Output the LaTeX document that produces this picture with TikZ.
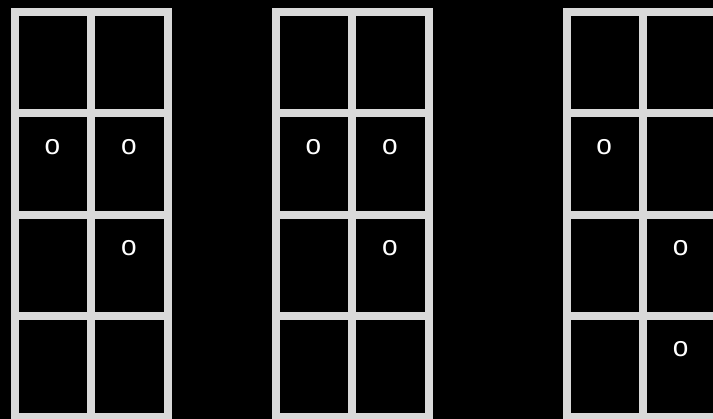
\documentclass[tikz,border=0pt]{standalone}
\usepackage{fontspec}
\setmainfont{Liberation Sans}
\definecolor{gridgray}{HTML}{D9D9D9}
\begin{document}
\begin{tikzpicture}[x=1pt,y=-1pt,
  gridline/.style={draw=gridgray,line width=8pt},
  tok/.style={text=white,font=\fontsize{28}{28}\selectfont,inner sep=0pt,anchor=center}]
\useasboundingbox (0,0) rectangle (713,419);
\fill[black] (0,0) rectangle (713,419);
\clip (0,0) rectangle (713,419);
\foreach \gx in {14.5,275.5,566.5} {
  \draw[gridline] (\gx,12) rectangle ++(153,405.2);
  \draw[gridline] (\gx+76.5,12) -- ++(0,405.2);
  \foreach \k in {1,2,3} \draw[gridline] (\gx,12+101.3*\k) -- ++(153,0);
}
\node[tok] (a21) at (52.5,147.5) {o};
\node[tok] (a22) at (129,147.5) {o};
\node[tok] (a32) at (129,248) {o};
\node[tok] (b21) at (313.5,147.5) {o};
\node[tok] (b22) at (390,147.5) {o};
\node[tok] (b32) at (390,248) {o};
\node[tok] (c21) at (604.2,147.5) {o};
\node[tok] (c32) at (680.7,248) {o};
\node[tok] (c42) at (680.7,349.5) {o};
\end{tikzpicture}
\end{document}
